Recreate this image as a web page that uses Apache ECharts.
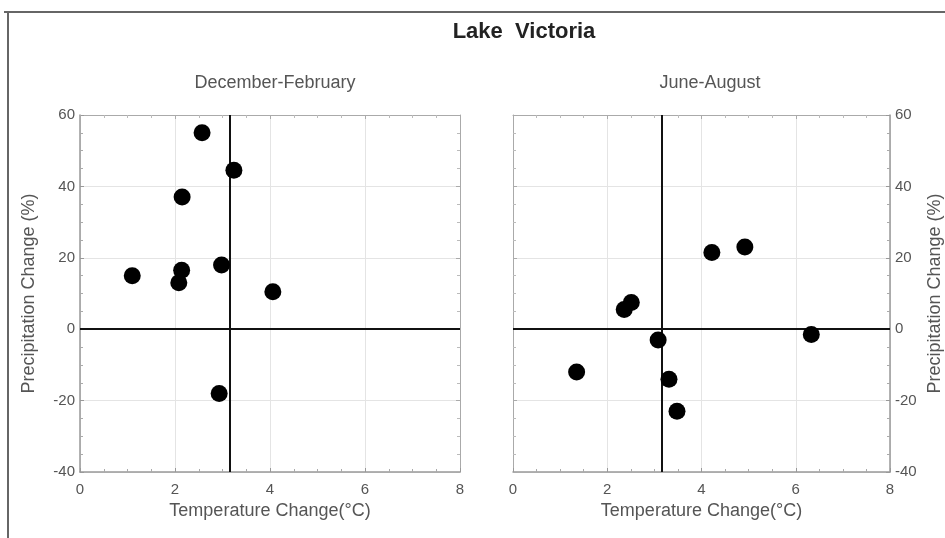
<!DOCTYPE html>
<html><head><meta charset="utf-8">
<script src="https://cdn.jsdelivr.net/npm/echarts@6/dist/echarts.min.js"></script>
<style>html,body{margin:0;padding:0;background:#fff}#c{width:945px;height:538px}</style>
</head><body><div id="c"></div>
<script>
var chartTitle = 'Lake  Victoria';
var panelTitles = ['December-February', 'June-August'];
var xName = 'Temperature Change(\u00b0C)';
var yName = 'Precipitation Change (%)';
var xTicks = [0, 2, 4, 6, 8];
var yTicks = [-40, -20, 0, 20, 40, 60];
var refTemp = 3.15;
var djfTemp = [2.57, 3.24, 2.15, 1.10, 2.14, 2.08, 2.98, 4.06, 2.93];
var djfPrecip = [55, 44.5, 37, 15, 16.5, 13, 18, 10.5, -18];
var jjaTemp = [4.22, 4.92, 2.51, 2.36, 3.08, 6.33, 1.35, 3.31, 3.48];
var jjaPrecip = [21.5, 23, 7.5, 5.5, -3, -1.5, -12, -14, -23];

function pairs(xs, ys) { return xs.map(function (x, i) { return [x, ys[i]]; }); }

var font = 'Liberation Sans, Arial, sans-serif';
var txt = '#555';
var xMin = xTicks[0], xMax = xTicks[xTicks.length - 1];
var yMin = yTicks[0], yMax = yTicks[yTicks.length - 1];

var grids = [
  { left: 80, right: 485, top: 115, bottom: 66 },
  { left: 513, right: 53, top: 115, bottom: 66 }
];

function mainX(gi) {
  return {
    type: 'value', gridIndex: gi, min: xMin, max: xMax, interval: 2,
    name: xName, nameLocation: 'middle', nameGap: 30,
    nameTextStyle: { fontFamily: font, fontSize: 18, color: txt },
    axisLine: { show: true, onZero: false, lineStyle: { color: '#999', width: 1.5 } },
    axisTick: { show: true, inside: true, length: 4, lineStyle: { color: '#999' } },
    minorTick: { show: true, splitNumber: 4, length: 3, lineStyle: { color: '#aaa' } },
    axisLabel: { fontFamily: font, fontSize: 15, color: txt, margin: 10 },
    splitLine: { show: true, lineStyle: { color: '#e4e4e4' } }
  };
}
function topX(gi) {
  return {
    type: 'value', gridIndex: gi, position: 'top', min: xMin, max: xMax, interval: 2,
    axisLine: { show: true, onZero: false, lineStyle: { color: '#aaa', width: 1 } },
    axisTick: { show: true, inside: true, length: 4, lineStyle: { color: '#aaa' } },
    minorTick: { show: true, splitNumber: 4, length: 3, lineStyle: { color: '#bbb' } },
    axisLabel: { show: false }, splitLine: { show: false }
  };
}
function mainY(gi, pos, gap) {
  return {
    type: 'value', gridIndex: gi, position: pos, min: yMin, max: yMax, interval: 20,
    name: yName, nameLocation: 'middle', nameGap: gap, nameRotate: 90,
    nameTextStyle: { fontFamily: font, fontSize: 18, color: txt },
    axisLine: { show: true, onZero: false, lineStyle: { color: '#999', width: 1.5 } },
    axisTick: { show: true, inside: true, length: 4, lineStyle: { color: '#999' } },
    minorTick: { show: true, splitNumber: 4, length: 3, lineStyle: { color: '#aaa' } },
    axisLabel: { fontFamily: font, fontSize: 15, color: txt, margin: 5 },
    splitLine: { show: true, lineStyle: { color: '#e4e4e4' } }
  };
}
function otherY(gi, pos) {
  return {
    type: 'value', gridIndex: gi, position: pos, min: yMin, max: yMax, interval: 20,
    axisLine: { show: true, onZero: false, lineStyle: { color: '#aaa', width: 1 } },
    axisTick: { show: true, inside: true, length: 4, lineStyle: { color: '#aaa' } },
    minorTick: { show: true, splitNumber: 4, length: 3, lineStyle: { color: '#bbb' } },
    axisLabel: { show: false }, splitLine: { show: false }
  };
}
function refLines() {
  return {
    silent: true, symbol: 'none', label: { show: false },
    lineStyle: { color: '#111', width: 2, type: 'solid' },
    data: [{ yAxis: 0 }, { xAxis: refTemp }]
  };
}
function scatter(xi, yi, data) {
  return {
    type: 'scatter', xAxisIndex: xi, yAxisIndex: yi, data: data,
    symbolSize: 17, itemStyle: { color: '#000', opacity: 1 },
    markLine: refLines(), z: 5
  };
}

var chart = echarts.init(document.getElementById('c'), null, { renderer: 'canvas' });
chart.setOption({
  backgroundColor: '#fff',
  animation: false,
  graphic: [
    { type: 'line', shape: { x1: 4, y1: 12, x2: 945, y2: 12 }, style: { stroke: '#666', lineWidth: 2 } },
    { type: 'line', shape: { x1: 8, y1: 12, x2: 8, y2: 538 }, style: { stroke: '#666', lineWidth: 2 } }
  ],
  title: [
    { text: chartTitle, left: 519, top: 16, textAlign: 'center',
      textStyle: { fontFamily: font, fontSize: 22, fontWeight: 'bold', color: '#222' } },
    { text: panelTitles[0], left: 270, top: 69, textAlign: 'center',
      textStyle: { fontFamily: font, fontSize: 18, fontWeight: 'normal', color: txt } },
    { text: panelTitles[1], left: 705, top: 69, textAlign: 'center',
      textStyle: { fontFamily: font, fontSize: 18, fontWeight: 'normal', color: txt } }
  ],
  grid: grids,
  xAxis: [mainX(0), mainX(1), topX(0), topX(1)],
  yAxis: [mainY(0, 'left', 42), mainY(1, 'right', 36), otherY(0, 'right'), otherY(1, 'left')],
  series: [
    scatter(0, 0, pairs(djfTemp, djfPrecip)),
    scatter(1, 1, pairs(jjaTemp, jjaPrecip))
  ]
});
</script></body></html>
